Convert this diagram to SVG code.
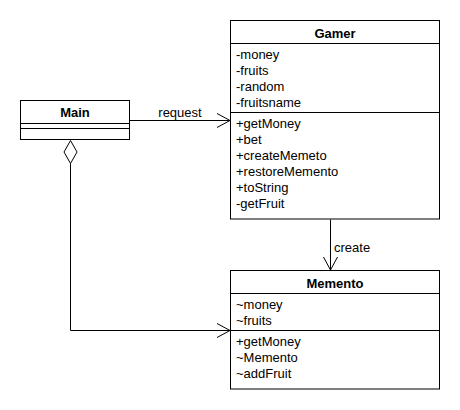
<svg xmlns="http://www.w3.org/2000/svg" width="460" height="410" viewBox="0 0 460 410">
<style>
.box{fill:#fff;stroke:#000;stroke-width:1}
.ln{stroke:#000;stroke-width:1;fill:none}
text{font-family:"Liberation Sans",Arial,sans-serif;font-size:13px;fill:#000}
.t{font-weight:bold;text-anchor:middle}
</style>
<rect width="460" height="410" fill="#fff"/>
<g id="connectors">
<path class="ln" d="M129.5,120.5 H230"/>
<path class="ln" d="M217,113.5 L230,120.5 L217,127.5"/>
<text x="180" y="117" text-anchor="middle">request</text>
<path class="ln" d="M70.5,140.5 L77,152 L70.5,163.5 L64,152 Z" style="fill:#fff"/>
<path class="ln" d="M70.5,163.5 V330.5 H230"/>
<path class="ln" d="M217,323.5 L230,330.5 L217,337.5"/>
<path class="ln" d="M330.5,219.5 V270"/>
<path class="ln" d="M323.5,257 L330.5,270 L337.5,257"/>
<text x="334" y="252">create</text>
</g>
<g id="Main">
<rect class="box" x="20.5" y="100.5" width="109" height="39"/>
<path class="ln" d="M20.5,123.5 H129.5 M20.5,128.5 H129.5"/>
<text class="t" x="75" y="117">Main</text>
</g>
<g id="Gamer">
<rect class="box" x="230.5" y="20.5" width="209" height="198.5"/>
<path class="ln" d="M230.5,43.5 H439.5 M230.5,112.5 H439.5"/>
<text class="t" x="335" y="38">Gamer</text>
<text x="236" y="59">-money</text>
<text x="236" y="75">-fruits</text>
<text x="236" y="91">-random</text>
<text x="236" y="107">-fruitsname</text>
<text x="236" y="128">+getMoney</text>
<text x="236" y="144">+bet</text>
<text x="236" y="160">+createMemeto</text>
<text x="236" y="176">+restoreMemento</text>
<text x="236" y="192">+toString</text>
<text x="236" y="208">-getFruit</text>
</g>
<g id="Memento">
<rect class="box" x="230.5" y="270.5" width="209" height="118.5"/>
<path class="ln" d="M230.5,293.5 H439.5 M230.5,330.5 H439.5"/>
<text class="t" x="335" y="288">Memento</text>
<text x="236" y="309">~money</text>
<text x="236" y="325">~fruits</text>
<text x="236" y="346">+getMoney</text>
<text x="236" y="362">~Memento</text>
<text x="236" y="378">~addFruit</text>
</g>
</svg>
